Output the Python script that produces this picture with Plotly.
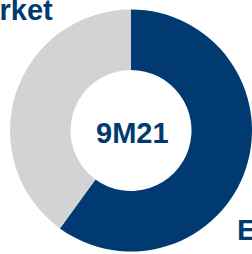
import plotly.graph_objects as go

labels = ["Export", "Domestic market"]
values = [60, 40]
colors = ["#003A70", "#D2D3D5"]
center_label = "9M21"

W, H = 252, 254
left, right, cy = 10.0, 252.0, 130.5  # pixel geometry of the donut (from top-left)
r = (right - left) / 2
cx = (left + right) / 2

fig = go.Figure(go.Pie(
    labels=labels,
    values=values,
    marker=dict(colors=colors, line=dict(width=0)),
    hole=0.5,
    sort=False,
    direction="clockwise",
    rotation=0,
    textinfo="none",
    hoverinfo="label+percent",
    domain=dict(x=[left / W, right / W],
                y=[(H - cy - r) / H, (H - cy + r) / H]),
    showlegend=False,
))

font = dict(family="Liberation Sans, Arial, sans-serif", size=29, color="#003A70")

fig.add_annotation(text="<b>%s</b>" % labels[1],
                   x=55 / W, y=(H - 10) / H, xref="paper", yref="paper",
                   xanchor="right", yanchor="middle", showarrow=False, font=font)
fig.add_annotation(text="<b>%s</b>" % center_label,
                   x=132.5 / W, y=(H - 132.5) / H, xref="paper", yref="paper",
                   xanchor="center", yanchor="middle", showarrow=False, font=font)
fig.add_annotation(text="<b>%s</b>" % labels[0],
                   x=235 / W, y=(H - 229.5) / H, xref="paper", yref="paper",
                   xanchor="left", yanchor="middle", showarrow=False,
                   font=dict(font, size=30))

fig.update_layout(width=W, height=H, margin=dict(l=0, r=0, t=0, b=0),
                  paper_bgcolor="white", plot_bgcolor="white")
fig.write_html("out.html", config={"displayModeBar": False},
               post_script="document.body.style.margin='0';document.body.style.overflow='hidden';")
